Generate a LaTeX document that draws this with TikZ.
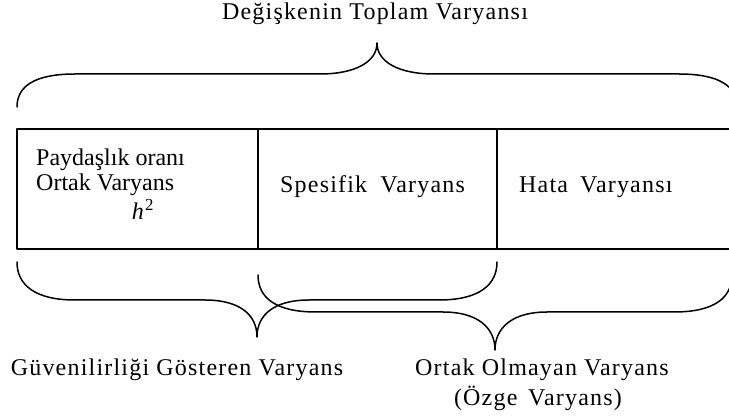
\documentclass[tikz,border=0pt]{standalone}
\usepackage{fontspec}
\setmainfont{Liberation Serif}[LetterSpace=5]
\begin{document}
\begin{tikzpicture}[x=1pt,y=-1pt,
  line/.style={line width=1.5pt, line cap=round, line join=round},
  lbl/.style={inner sep=0pt, font=\fontsize{24}{27}\selectfont},
  cell/.style={inner sep=0pt, font=\fontsize{24}{27}\selectfont\addfontfeatures{LetterSpace=0}}]
\useasboundingbox (0,0) rectangle (729,419);
\begin{scope}
\clip (0,0) rectangle (729,419);
% title
\node[lbl] (title) at (375,14) {Değişkenin Toplam Varyansı};
% top brace
\draw[line] (17,107) .. controls (17,86) and (35,74) .. (75,74) -- (320,74)
  .. controls (355,74) and (377,62) .. (377,43)
  .. controls (377,62) and (399,74) .. (434,74) -- (679,74)
  .. controls (719,74) and (737,86) .. (737,107);
% box
\draw[line] (729,129) -- (17,129) -- (17,249) -- (729,249);
\draw[line] (258,129) -- (258,249);
\draw[line] (497,129) -- (497,249);
% box texts
\node[cell, anchor=west] (p1) at (36,160) {Paydaşlık oranı};
\node[cell, anchor=west] (p2) at (36,185) {Ortak Varyans};
\node[lbl] (h2) at (143,209) {\textit{h}\textsuperscript{2}};
\node[lbl, anchor=west] (spec) at (280,187) {Spesifik\hspace{0.25em} Varyans};
\node[lbl, anchor=west] (hata) at (519,187) {Hata\hspace{0.2em} Varyansı};
% lower-left brace
\draw[line] (17,262) .. controls (17,285) and (35,300) .. (75,300) -- (205,300)
  .. controls (240,300) and (257,315) .. (257,337)
  .. controls (257,315) and (274,300) .. (309,300) -- (439,300)
  .. controls (479,300) and (497,285) .. (497,262);
% lower-right brace
\draw[line] (258,275) .. controls (258,298) and (276,312) .. (316,312) -- (443,312)
  .. controls (478,312) and (495,328) .. (495,350)
  .. controls (495,328) and (512,312) .. (547,312) -- (674,312)
  .. controls (714,312) and (732,298) .. (732,275);
% lower texts
\node[lbl] (guv) at (177,370) {Güvenilirliği Gösteren Varyans};
\node[lbl] (ortak) at (542,370) {Ortak Olmayan Varyans};
\node[lbl] (ozge) at (538,398) {(Özge\hspace{0.15em} Varyans)};
\end{scope}
\end{tikzpicture}
\end{document}
